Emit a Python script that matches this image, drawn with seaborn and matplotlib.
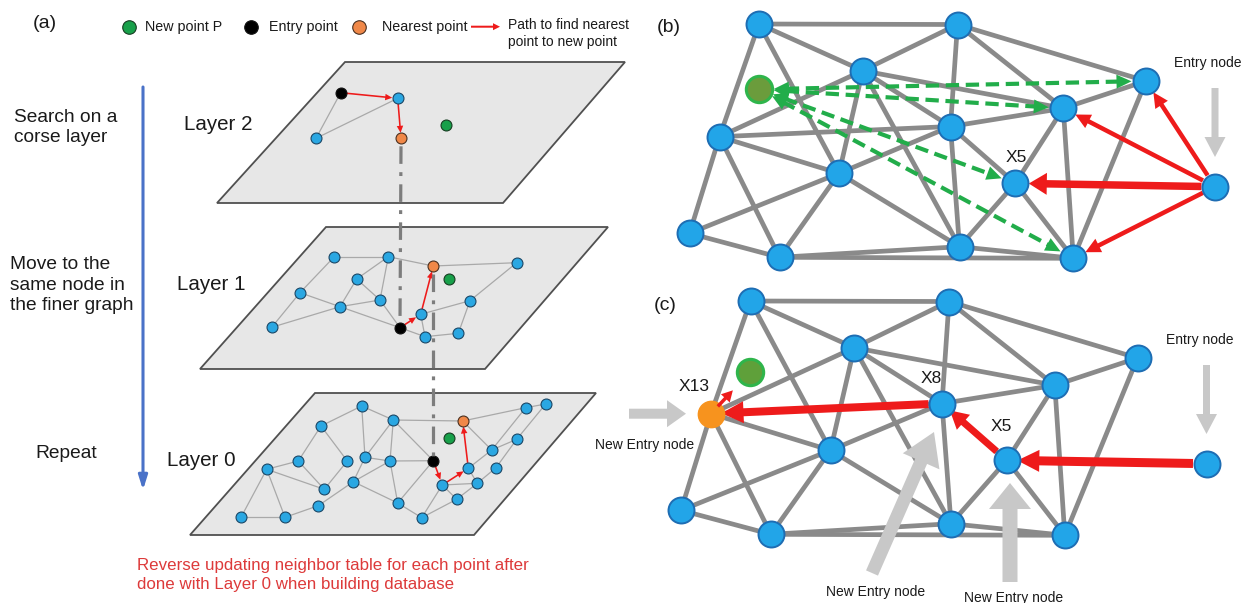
import numpy as np
import pandas as pd
import matplotlib
matplotlib.use("Agg")
import matplotlib.pyplot as plt
import seaborn as sns
from matplotlib.collections import LineCollection
from matplotlib.patches import Polygon

sns.set_theme(style="white")
plt.rcParams['font.family'] = ['Liberation Sans', 'DejaVu Sans']

# ---------------- data ----------------
# Panel (a): three HNSW layers (node coordinates, thin edges, search path)
layer2_corners = [(345, 62), (625, 62), (503, 203), (217, 203)]
layer2_x = [340.7, 397.7, 316.0, 401.0]
layer2_y = [92.7, 98.3, 138.3, 138.3]
layer2_edges = [(0, 2), (2, 1)]
layer2_path = [0, 1, 3]
layer2_new = (446.0, 125.0)

layer1_corners = [(326, 227), (608, 227), (485, 369), (200, 369)]
layer1_x = [334.3, 388.3, 433.3, 516.7, 356.7, 300.0, 380.0, 340.0, 470.0,
            420.7, 400.0, 271.7, 425.0, 458.3]
layer1_y = [256.7, 256.7, 266.0, 262.7, 279.0, 292.7, 300.0, 306.7, 300.7,
            314.3, 327.7, 327.3, 336.7, 333.3]
layer1_edges = [(0, 1), (0, 5), (1, 4), (1, 6), (1, 2), (2, 3), (3, 8), (4, 7),
                (4, 6), (5, 7), (11, 7), (11, 5), (7, 6), (7, 10), (6, 10),
                (9, 8), (12, 13), (13, 8), (10, 12), (9, 12)]
layer1_path = [10, 9, 2]
layer1_new = (449.3, 279.0)

layer0_corners = [(315, 393), (596, 393), (474, 535), (190, 535)]
layer0_x = [361.7, 393.3, 321.0, 298.3, 347.3, 365.0, 390.0, 266.7, 353.3,
            324.3, 318.3, 397.7, 241.0, 285.0, 525.7, 545.7, 516.7, 491.7,
            468.3, 496.0, 442.3, 477.3, 456.7, 421.7, 462.7, 433.3]
layer0_y = [406.0, 420.0, 426.0, 461.0, 461.0, 457.3, 461.0, 469.3, 481.7,
            489.3, 505.7, 503.0, 517.3, 517.3, 407.7, 404.0, 439.3, 450.0,
            468.3, 467.7, 485.0, 483.3, 499.3, 517.7, 421.0, 460.7]
layer0_edges = [(0, 2), (0, 1), (0, 5), (2, 3), (2, 4), (1, 5), (1, 6), (3, 7),
                (3, 9), (7, 9), (7, 12), (7, 13), (12, 13), (13, 10), (10, 8),
                (4, 9), (5, 8), (5, 6), (8, 6), (8, 11), (6, 11), (1, 24),
                (1, 25), (6, 25), (11, 25), (11, 23), (23, 20), (23, 22),
                (20, 22), (20, 21), (22, 21), (18, 21), (18, 17), (24, 17),
                (24, 14), (14, 15), (15, 16), (16, 17), (16, 19), (19, 21),
                (14, 17)]
layer0_path = [25, 20, 18, 24]
layer0_new = (449.3, 438.3)

# Panels (b) and (c): the same proximity graph
graph_x = [759.0, 957.5, 862.7, 1146.0, 1063.3, 950.5, 719.5, 839.0, 1015.3,
           1215.0, 689.5, 779.5, 959.5, 1073.3]
graph_y = [24.0, 24.5, 70.7, 81.0, 108.3, 126.5, 136.7, 173.3, 183.3, 186.7,
           233.3, 257.3, 246.7, 258.3]
graph_edges = [(0, 1), (0, 2), (0, 6), (0, 7), (1, 2), (1, 5), (1, 3), (1, 4),
               (2, 6), (2, 7), (2, 5), (2, 12), (2, 4), (6, 5), (6, 7),
               (6, 10), (6, 11), (10, 7), (10, 11), (11, 7), (11, 12),
               (11, 13), (7, 5), (7, 12), (5, 12), (5, 4), (5, 8), (8, 13),
               (4, 3), (4, 8), (8, 12), (4, 13), (3, 13), (12, 13)]
entry_node = 9
b_new_point = (759.3, 89.3)
b_candidates = [3, 4, 8, 13]
c_new_point = (750.0, 372.0)
c_path = [9, 8, 5, 6]
c_nearest = 6
c_shift = (-8.5, 277.0)

# ---------------- figure ----------------
W, H = 1244, 603
fig = plt.figure(figsize=(W / 100, H / 100), dpi=100)
ax = fig.add_axes([0, 0, 1, 1])

BLUE, BLUE_EDGE = '#22a5e8', '#1e6db3'
RED = '#ee1b1b'
GRAY_ARROW = '#c8c8c8'
TXT = '#1a1a1a'


def scatter(xs, ys, s, color, edge, lw, z):
    sns.scatterplot(x=np.asarray(xs, float), y=np.asarray(ys, float), ax=ax,
                    s=s, color=color, edgecolor=edge, linewidth=lw,
                    zorder=z, legend=False)


def arrow(p, q, r0, r1, width, hw, hl, color, z):
    p, q = np.asarray(p, float), np.asarray(q, float)
    u = (q - p) / np.linalg.norm(q - p)
    s, e = p + u * r0, q - u * r1
    ax.arrow(s[0], s[1], e[0] - s[0], e[1] - s[1], width=width,
             head_width=hw, head_length=hl, length_includes_head=True,
             color=color, lw=0, zorder=z)


def dashed_double(p, q, r0, r1, color, lw, hw, hl, z):
    p, q = np.asarray(p, float), np.asarray(q, float)
    u = (q - p) / np.linalg.norm(q - p)
    s, e = p + u * r0, q - u * r1
    a, b = s + u * hl * 0.8, e - u * hl * 0.8
    ax.plot([a[0], b[0]], [a[1], b[1]], color=color, lw=lw,
            linestyle=(0, (3.2, 1.6)), solid_capstyle='butt', zorder=z)
    for tip, d in ((e, u), (s, -u)):
        base = tip - d * hl
        ax.arrow(base[0], base[1], d[0] * hl, d[1] * hl, width=0.1,
                 head_width=hw, head_length=hl, length_includes_head=True,
                 color=color, lw=0, zorder=z)


def draw_layer(corners, xs, ys, edges, path, new_pt, z):
    ax.add_patch(Polygon(corners, closed=True, facecolor='#e7e7e7',
                         edgecolor='#505050', lw=1.3, zorder=z))
    pts = np.column_stack([xs, ys])
    ax.add_collection(LineCollection([[pts[i], pts[j]] for i, j in edges],
                                     colors='#a9a9a9', linewidths=0.9,
                                     zorder=z + 0.1))
    for a, b in zip(path[:-1], path[1:]):
        arrow(pts[a], pts[b], 5.5, 5.5, 1.6, 6.5, 7, RED, z + 0.3)
    blue = [k for k in range(len(xs)) if k not in (path[0], path[-1])]
    scatter(pts[blue, 0], pts[blue, 1], 62, '#2aa7e2', '#1b4766', 0.8, z + 0.5)
    scatter([pts[path[0], 0]], [pts[path[0], 1]], 62, 'black', '#111111', 0.8, z + 0.5)
    scatter([pts[path[-1], 0]], [pts[path[-1], 1]], 62, '#f08848', '#4a3020', 0.8, z + 0.5)
    scatter([new_pt[0]], [new_pt[1]], 62, '#18a04a', '#173d22', 0.8, z + 0.5)


# ---- panel (a) ----
draw_layer(layer0_corners, layer0_x, layer0_y, layer0_edges, layer0_path, layer0_new, 1)
draw_layer(layer1_corners, layer1_x, layer1_y, layer1_edges, layer1_path, layer1_new, 2)
draw_layer(layer2_corners, layer2_x, layer2_y, layer2_edges, layer2_path, layer2_new, 3)

# dash-dot links: nearest point of a layer down to the entry point of the next
for (x0, y0), (x1, y1) in [((layer2_x[layer2_path[-1]], layer2_y[layer2_path[-1]]),
                            (layer1_x[layer1_path[0]], layer1_y[layer1_path[0]])),
                           ((layer1_x[layer1_path[-1]], layer1_y[layer1_path[-1]]),
                            (layer0_x[layer0_path[0]], layer0_y[layer0_path[0]]))]:
    ax.plot([x0, x1], [y0 + 8, y1 - 5], color='#7d7d7d', lw=2.3,
            linestyle=(0, (5.5, 2.6, 1.2, 2.6)), zorder=3.35)

# descending blue arrow
ax.annotate('', xy=(143, 490), xytext=(143, 87),
            arrowprops=dict(arrowstyle='-|>,head_length=0.7,head_width=0.22',
                            color='#4a72c8', lw=2.2, shrinkA=0, shrinkB=0))

ax.text(45, 24, '(a)', fontsize=14, ha='center', va='center', color=TXT)
# legend
scatter([128.6], [26.7], 95, '#18a04a', '#173d22', 0.8, 5)
scatter([251.0], [26.7], 95, 'black', '#111111', 0.8, 5)
scatter([359.0], [26.7], 95, '#f08848', '#4a3020', 0.8, 5)
ax.arrow(471, 26.7, 29, 0, width=2.0, head_width=7, head_length=7,
         length_includes_head=True, color=RED, lw=0)
ax.text(145, 27, 'New point P', fontsize=10.3, va='center', color=TXT)
ax.text(269, 27, 'Entry point', fontsize=10.3, va='center', color=TXT)
ax.text(381.5, 27, 'Nearest point', fontsize=10.3, va='center', color=TXT)
ax.text(508, 33.5, 'Path to find nearest\npoint to new point', fontsize=10,
        va='center', color=TXT, linespacing=1.3)

ax.text(14, 127.5, 'Search on a\ncorse layer', fontsize=13.8, va='center',
        color=TXT, linespacing=1.3)
ax.text(10, 285, 'Move to the\nsame node in\nthe finer graph', fontsize=13.8,
        va='center', color=TXT, linespacing=1.3)
ax.text(35, 453, 'Repeat', fontsize=13.8, va='center', color=TXT)
ax.text(184, 125, 'Layer 2', fontsize=14.8, va='center', color=TXT, zorder=4)
ax.text(177, 285, 'Layer 1', fontsize=14.8, va='center', color=TXT, zorder=4)
ax.text(167, 460, 'Layer 0', fontsize=14.8, va='center', color=TXT, zorder=4)
ax.text(137, 575, 'Reverse updating neighbor table for each point after\n'
        'done with Layer 0 when building database', fontsize=12.2,
        va='center', color='#dd3a3a', linespacing=1.4)


# ---- panels (b) and (c) ----
def draw_graph(dx, dy):
    pts = np.column_stack([graph_x, graph_y]) + np.array([dx, dy])
    ax.add_collection(LineCollection([[pts[i], pts[j]] for i, j in graph_edges],
                                     colors='#8a8a8a', linewidths=3.4,
                                     zorder=6, capstyle='round'))
    return pts


R = 13.5
pb = draw_graph(0, 0)
for k in b_candidates:
    dashed_double(b_new_point, pb[k], R + 1, R + 1, '#22ad4a', 3.0, 14, 15, 7)
for k in b_candidates:
    w, hw, hl = (7.5, 22, 18) if k == 8 else (4.5, 15, 15)
    arrow(pb[entry_node], pb[k], R, R, w, hw, hl, RED, 8)
scatter(pb[:, 0], pb[:, 1], 350, BLUE, BLUE_EDGE, 1.4, 9)
scatter([b_new_point[0]], [b_new_point[1]], 360, '#6b9c3c', '#2fb54b', 2.2, 9)

ax.text(669, 27, '(b)', fontsize=14, ha='center', va='center', color=TXT)
ax.text(1208, 63, 'Entry node', fontsize=10, ha='center', va='center', color=TXT)
ax.arrow(pb[entry_node, 0], 88, 0, 69, width=7, head_width=21, head_length=20,
         length_includes_head=True, color=GRAY_ARROW, lw=0, zorder=5)
ax.text(pb[8, 0] + 1, 157, 'X5', fontsize=12.5, ha='center', va='center', color=TXT)

pc = draw_graph(*c_shift)
widths = [(9, 22, 22), (7, 20, 18), (8, 22, 22)]
for (a, b), (w, hw, hl) in zip(zip(c_path[:-1], c_path[1:]), widths):
    arrow(pc[a], pc[b], R, R - 3, w, hw, hl, RED, 8)
blue_c = [k for k in range(len(graph_x)) if k != c_nearest]
scatter(pc[blue_c, 0], pc[blue_c, 1], 350, BLUE, BLUE_EDGE, 1.4, 9)
scatter([pc[c_nearest, 0]], [pc[c_nearest, 1]], 360, '#f7931e', '#f7931e', 1.0, 9)
scatter([c_new_point[0]], [c_new_point[1]], 360, '#5fa03a', '#2fb54b', 2.2, 9)
# short hop from the nearest node toward the new point
u = np.array(c_new_point) - pc[c_nearest]
u = u / np.linalg.norm(u)
start = pc[c_nearest] + u * 10
ax.arrow(start[0], start[1], u[0] * 22, u[1] * 22, width=3.5, head_width=12,
         head_length=11, length_includes_head=True, color=RED, lw=0, zorder=10)

ax.text(665, 305, '(c)', fontsize=14, ha='center', va='center', color=TXT)
ax.text(1199.5, 340, 'Entry node', fontsize=10, ha='center', va='center', color=TXT)
ax.arrow(pc[entry_node, 0], 365, 0, 69, width=7, head_width=21, head_length=20,
         length_includes_head=True, color=GRAY_ARROW, lw=0, zorder=5)
ax.text(694.5, 386.5, 'X13', fontsize=12.5, ha='center', va='center', color=TXT, zorder=11)
ax.text(931.5, 378.5, 'X8', fontsize=12.5, ha='center', va='center', color=TXT, zorder=11)
ax.text(1001.5, 426.5, 'X5', fontsize=12.5, ha='center', va='center', color=TXT, zorder=11)

# "New Entry node" markers
ax.arrow(629, pc[c_nearest, 1], 57, 0, width=10, head_width=27, head_length=19,
         length_includes_head=True, color=GRAY_ARROW, lw=0, zorder=5)
ax.text(645, 445, 'New Entry node', fontsize=10, ha='center', va='center', color=TXT)
ax.arrow(872, 573, 62, -141, width=13, head_width=40, head_length=32,
         length_includes_head=True, color=GRAY_ARROW, lw=0, zorder=10)
ax.text(876, 592, 'New Entry node', fontsize=10, ha='center', va='center', color=TXT)
ax.arrow(1010, 582, 0, -99, width=15, head_width=42, head_length=26,
         length_includes_head=True, color=GRAY_ARROW, lw=0, zorder=10)
ax.text(1014, 598, 'New Entry node', fontsize=10, ha='center', va='center', color=TXT)

ax.set_xlim(0, W)
ax.set_ylim(H, 0)
ax.set_aspect('auto')
ax.axis('off')
fig.savefig('out.png', dpi=100, facecolor='white')
